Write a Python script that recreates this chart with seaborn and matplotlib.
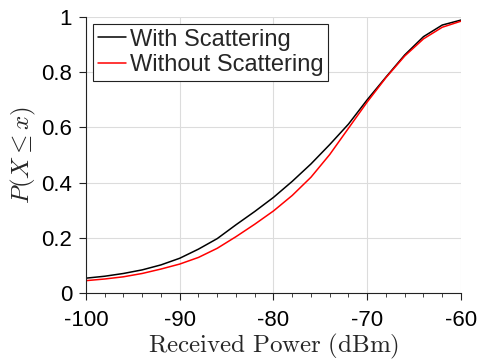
import matplotlib
matplotlib.use("Agg")
import matplotlib.pyplot as plt
import seaborn as sns
import pandas as pd
from matplotlib.ticker import MultipleLocator

power_dbm = [-100, -98, -96, -94, -92, -90, -88, -86, -84, -82, -80,
             -78, -76, -74, -72, -70, -68, -66, -64, -62, -60]
cdf_with = [0.055, 0.062, 0.072, 0.085, 0.103, 0.127, 0.160, 0.198, 0.248, 0.296, 0.347,
            0.405, 0.468, 0.538, 0.612, 0.700, 0.782, 0.862, 0.928, 0.970, 0.988]
cdf_without = [0.046, 0.052, 0.060, 0.072, 0.088, 0.106, 0.130, 0.163, 0.205, 0.250, 0.298,
               0.354, 0.420, 0.502, 0.597, 0.692, 0.780, 0.858, 0.920, 0.962, 0.984]
labels = ["With Scattering", "Without Scattering"]
colors = ["#000000", "#ff0000"]

df = pd.DataFrame({
    "power": power_dbm * 2,
    "cdf": cdf_with + cdf_without,
    "series": [labels[0]] * len(power_dbm) + [labels[1]] * len(power_dbm),
})

sns.set_style("white")
plt.rcParams["font.family"] = ["Liberation Sans", "DejaVu Sans"]
plt.rcParams["mathtext.fontset"] = "cm"
plt.rcParams["axes.unicode_minus"] = False

fig = plt.figure(figsize=(4.79, 3.64), dpi=100)
ax = fig.add_axes([0.1795, 0.194, 0.9624 - 0.1795, 0.954 - 0.194])

sns.lineplot(data=df, x="power", y="cdf", hue="series", palette=colors,
             hue_order=labels, ax=ax, linewidth=1.1, legend=True)

ax.set_xlim(-100, -60)
ax.set_ylim(0, 1)
ax.set_xticks([-100, -90, -80, -70, -60])
ax.set_yticks([0, 0.2, 0.4, 0.6, 0.8, 1.0])
ax.set_yticklabels(["0", "0.2", "0.4", "0.6", "0.8", "1"])
ax.xaxis.set_minor_locator(MultipleLocator(2))
ax.grid(True, which="major", color="#dcdcdc", linewidth=0.8)
ax.set_axisbelow(True)

for s in ["top", "right"]:
    ax.spines[s].set_visible(False)
for s in ["left", "bottom"]:
    ax.spines[s].set_color("#222222")
    ax.spines[s].set_linewidth(0.8)

ax.tick_params(which="major", direction="out", length=5, width=0.8, colors="#222222",
               labelsize=16, labelcolor="black", pad=5, left=True, bottom=True)
ax.tick_params(axis="x", which="major", pad=7)
ax.tick_params(which="minor", axis="x", direction="out", length=3, width=0.6,
               colors="#222222", bottom=True)

ax.set_xlabel(r"$\mathrm{Received\ Power\ (dBm)}$", fontsize=18, labelpad=0.5)
ax.set_ylabel(r"$P(X \leq x)$", fontsize=18, labelpad=2)

leg = ax.legend(loc="upper left", fontsize=17, frameon=True, fancybox=False,
                handlelength=1.2, handletextpad=0.15, labelspacing=0.15,
                borderpad=0.2, borderaxespad=0.3)
leg.get_frame().set_edgecolor("#222222")
leg.get_frame().set_linewidth(0.8)
leg.get_frame().set_alpha(1)
for line in leg.get_lines():
    line.set_linewidth(1.1)

fig.savefig("out.png", dpi=100)
